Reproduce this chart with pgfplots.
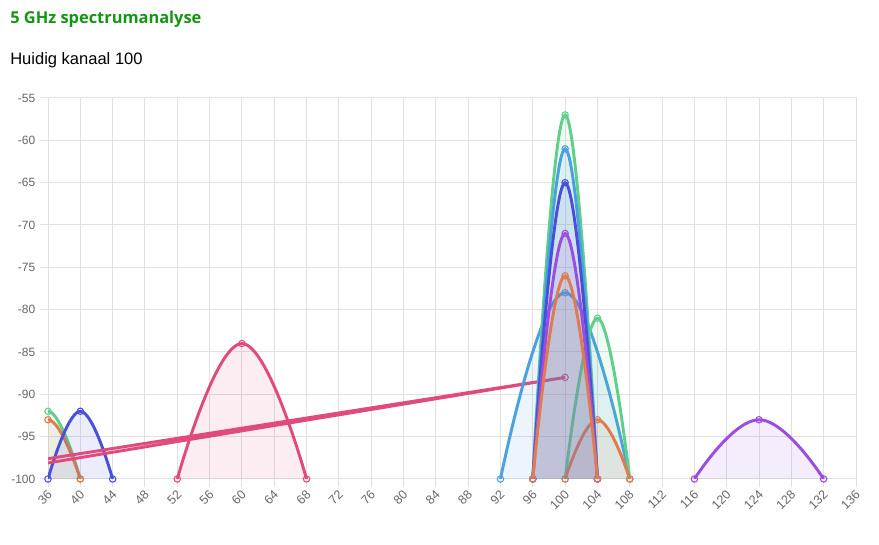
\documentclass[border=0pt]{standalone}
\usepackage{pgfplots}
\pgfplotsset{compat=1.18}
\usepackage{fontspec}
\setmainfont{Liberation Sans}
\newfontfamily\titlefont{Open Sans}
\definecolor{cgreen}{RGB}{95,207,138}
\definecolor{clblue}{RGB}{74,160,224}
\definecolor{cdblue}{RGB}{70,80,216}
\definecolor{cpurple}{RGB}{155,77,223}
\definecolor{corange}{RGB}{224,123,80}
\definecolor{cpink}{RGB}{224,74,124}
\definecolor{tickgrey}{RGB}{102,102,102}
\definecolor{gridgrey}{RGB}{225,225,225}
\definecolor{titlegreen}{RGB}{20,150,20}
\pgfplotsset{
  spec/.style={smooth, tension=0.75, line width=2.2pt, color=#1, fill=#1, fill opacity=0.1, draw opacity=1,
    mark=o, mark size=2.4pt, mark options={solid, line width=0.8pt, fill=#1!15, fill opacity=1}},
}
\begin{document}
\begin{tikzpicture}
\useasboundingbox (0,0) rectangle (659.25pt,408.75pt);
\node[anchor=west, text=titlegreen, font=\titlefont\bfseries\fontsize{12.3pt}{14pt}\selectfont, inner sep=0pt] at (7.5pt,394pt) {5 GHz spectrumanalyse};
\node[anchor=west, font=\fontsize{12.4pt}{14pt}\selectfont, inner sep=0pt] at (7.5pt,363.5pt) {Huidig kanaal 100};
\begin{axis}[
  at={(36pt,49.5pt)}, anchor=south west,
  scale only axis, width=606pt, height=285.75pt,
  xmin=36, xmax=136, ymin=-100, ymax=-55,
  xtick={36,40,...,136}, ytick={-100,-95,...,-55},
  grid=major, grid style={gridgrey, line width=0.75pt},
  axis line style={gridgrey, line width=0.75pt},
  tick style={gridgrey, line width=0.75pt},
  tick align=outside, major tick length=6pt,
  xtick pos=bottom, ytick pos=left,
  ticklabel style={font=\fontsize{9pt}{10pt}\selectfont, text=tickgrey},
  xticklabel style={rotate=45, anchor=east, yshift=-4pt, xshift=1.5pt, font=\fontsize{9.4pt}{10pt}\selectfont},
  yticklabel style={anchor=east},
  /pgf/number format/assume math mode=true,
  clip mode=individual,
]
% 36-44 region
\addplot[spec=cgreen] coordinates {(32,-100) (36,-92) (40,-100)};
\addplot[spec=corange] coordinates {(32,-100) (36,-93) (40,-100)};
\addplot[spec=cdblue] coordinates {(36,-100) (40,-92) (44,-100)};
% 60
\addplot[spec=cpink] coordinates {(52,-100) (60,-84) (68,-100)};
% odd pink line
\addplot[sharp plot, line width=2.2pt, color=cpink, mark=none] coordinates {(20,-100) (100,-88) (24,-100)};
\addplot[only marks, color=cpink, mark=o, mark size=2.4pt, mark options={line width=0.8pt, fill=cpink!15}] coordinates {(100,-88)};
% 100 region
\addplot[spec=clblue] coordinates {(92,-100) (100,-78) (108,-100)};
\addplot[spec=cgreen] coordinates {(100,-100) (104,-81) (108,-100)};
\addplot[spec=corange] coordinates {(100,-100) (104,-93) (108,-100)};
\addplot[spec=cgreen] coordinates {(96,-100) (100,-57) (104,-100)};
\addplot[spec=clblue] coordinates {(96,-100) (100,-61) (104,-100)};
\addplot[spec=cdblue] coordinates {(96,-100) (100,-65) (104,-100)};
\addplot[spec=cpurple] coordinates {(96,-100) (100,-71) (104,-100)};
\addplot[spec=corange] coordinates {(96,-100) (100,-76) (104,-100)};
% 124
\addplot[spec=cpurple] coordinates {(116,-100) (124,-93) (132,-100)};
\end{axis}
\end{tikzpicture}
\end{document}
